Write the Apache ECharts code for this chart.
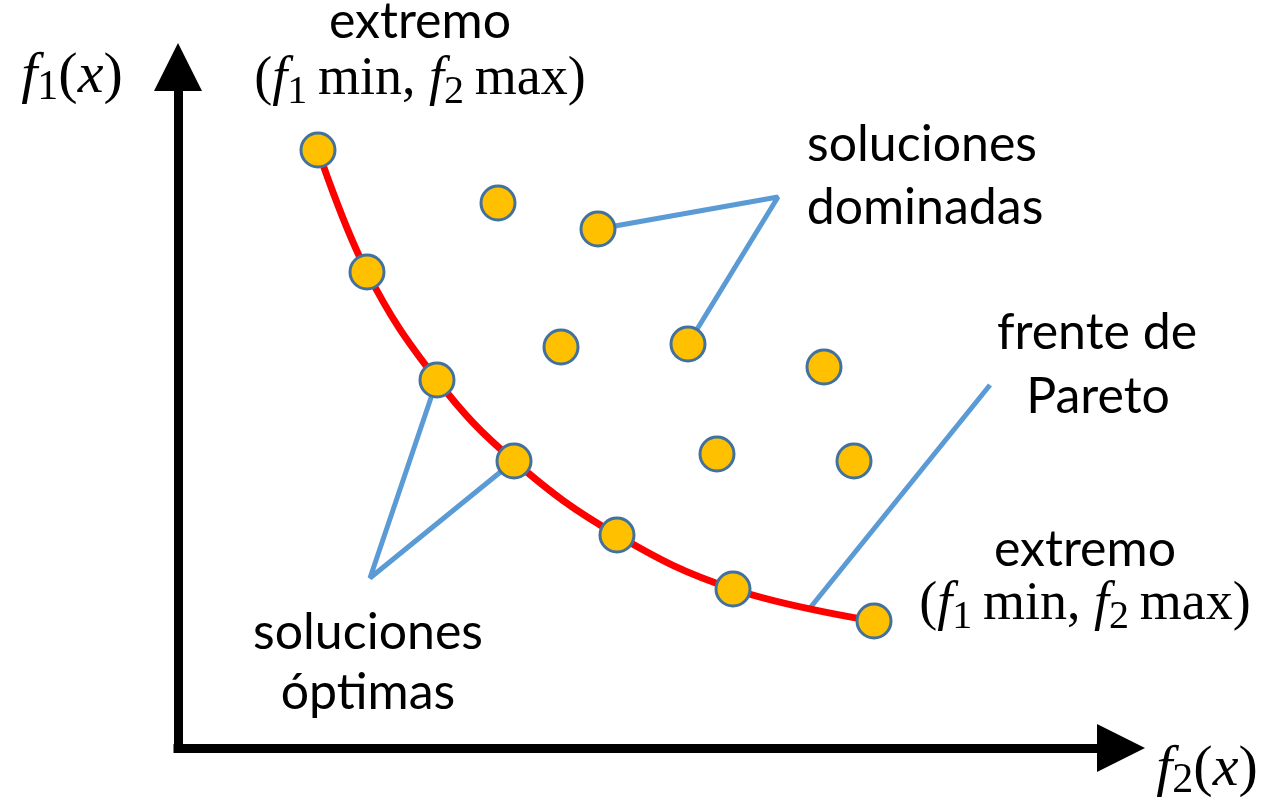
<!DOCTYPE html>
<html>
<head>
<meta charset="utf-8">
<script src="https://cdn.jsdelivr.net/npm/echarts@6/dist/echarts.min.js"></script>
<style>html,body{margin:0;padding:0;background:#fff;}#c{width:1270px;height:797px;}</style>
</head>
<body>
<div id="c"></div>
<script>
// Pareto-optimal solutions (f2 on x, f1 on y)
const paretoX = [14.0, 18.9, 25.9, 33.6, 43.9, 55.5, 69.6];
const paretoY = [59.8, 47.6, 36.8, 28.7, 21.3, 15.9, 12.7];
// Dominated solutions
const domX = [32.0, 42.0, 38.3, 51.0, 64.6, 53.9, 67.6];
const domY = [54.5, 51.9, 40.1, 40.4, 38.1, 29.4, 28.7];
// Annotation leader lines
const domLeaderX = [42.0, 60.0, 51.0];
const domLeaderY = [51.9, 55.1, 40.4];
const optLeaderX = [25.9, 19.2, 33.6];
const optLeaderY = [36.8, 17.0, 28.7];
const frontLeaderX = [81.2, 63.2];
const frontLeaderY = [36.3, 14.0];

const zip = (xs, ys) => xs.map((x, i) => [x, ys[i]]);

const sans = 'Lato';
const serif = 'Liberation Serif';
const txtFont = { fontFamily: sans, fontSize: 50, fill: '#000' };
function richFor(size, sub) {
  return {
    p: { fontFamily: serif, fontSize: size, lineHeight: 64 },
    f: { fontFamily: serif, fontSize: size, fontStyle: 'italic', lineHeight: 64 },
    s: { fontFamily: serif, fontSize: sub, lineHeight: 36, verticalAlign: 'bottom' }
  };
}
function mathLabel(x, y) {
  return {
    type: 'text', x: x, y: y, z: 10,
    style: {
      text: '{p|(}{f|f}{s|1}{p|\u2009min, }{f|f}{s|2}{p|\u2009max)}',
      align: 'center', verticalAlign: 'middle', rich: richFor(54, 40), fill: '#000'
    }
  };
}
function plain(x, y, t) {
  return { type: 'text', x: x, y: y, z: 10, style: Object.assign({ text: t, align: 'center', verticalAlign: 'middle' }, txtFont) };
}
function axisName(x, y, n) {
  return { type: 'text', x: x, y: y, z: 10,
    style: { text: '{f|f}{s|' + n + '}{p|(}{f|x}{p|)}', align: 'center', verticalAlign: 'middle', rich: richFor(58, 42), fill: '#000' } };
}

const chart = echarts.init(document.getElementById('c'));
chart.setOption({
  backgroundColor: '#fff',
  animation: false,
  grid: { left: 178, top: 67, width: 943, height: 681 },
  xAxis: {
    type: 'value', min: 0, max: 94.3,
    axisLine: { show: true, symbol: ['none', 'triangle'], symbolSize: [48, 48],
      lineStyle: { color: '#000', width: 9, cap: 'square' } },
    axisTick: { show: false }, axisLabel: { show: false }, splitLine: { show: false }
  },
  yAxis: {
    type: 'value', min: 0, max: 68.1,
    axisLine: { show: true, symbol: ['none', 'triangle'], symbolSize: [48, 48],
      lineStyle: { color: '#000', width: 9, cap: 'square' } },
    axisTick: { show: false }, axisLabel: { show: false }, splitLine: { show: false }
  },
  series: [
    { type: 'line', data: zip(domLeaderX, domLeaderY), symbol: 'none', lineStyle: { color: '#5B9BD5', width: 5 }, z: 2 },
    { type: 'line', data: zip(optLeaderX, optLeaderY), symbol: 'none', lineStyle: { color: '#5B9BD5', width: 5 }, z: 2 },
    { type: 'line', data: zip(frontLeaderX, frontLeaderY), symbol: 'none', lineStyle: { color: '#5B9BD5', width: 5 }, z: 2 },
    { type: 'line', data: zip(paretoX, paretoY), smooth: 0.4, symbol: 'none', lineStyle: { color: '#FF0000', width: 7 }, z: 3 },
    { type: 'scatter', data: zip(paretoX, paretoY), symbolSize: 34,
      itemStyle: { color: '#FFC000', borderColor: '#41719C', borderWidth: 3, opacity: 1 }, z: 5 },
    { type: 'scatter', data: zip(domX, domY), symbolSize: 34,
      itemStyle: { color: '#FFC000', borderColor: '#41719C', borderWidth: 3, opacity: 1 }, z: 5 }
  ],
  graphic: [
    plain(420, 22, 'extremo'),
    mathLabel(420, 80),
    plain(922, 145, 'soluciones'),
    plain(925, 208, 'dominadas'),
    plain(1097, 333, 'frente de'),
    plain(1098, 397, 'Pareto'),
    plain(1085, 550, 'extremo'),
    mathLabel(1085, 605),
    plain(368, 633, 'soluciones'),
    plain(368, 693, 'óptimas'),
    axisName(72, 77, 1),
    axisName(1207, 770, 2)
  ]
});
</script>
</body>
</html>
